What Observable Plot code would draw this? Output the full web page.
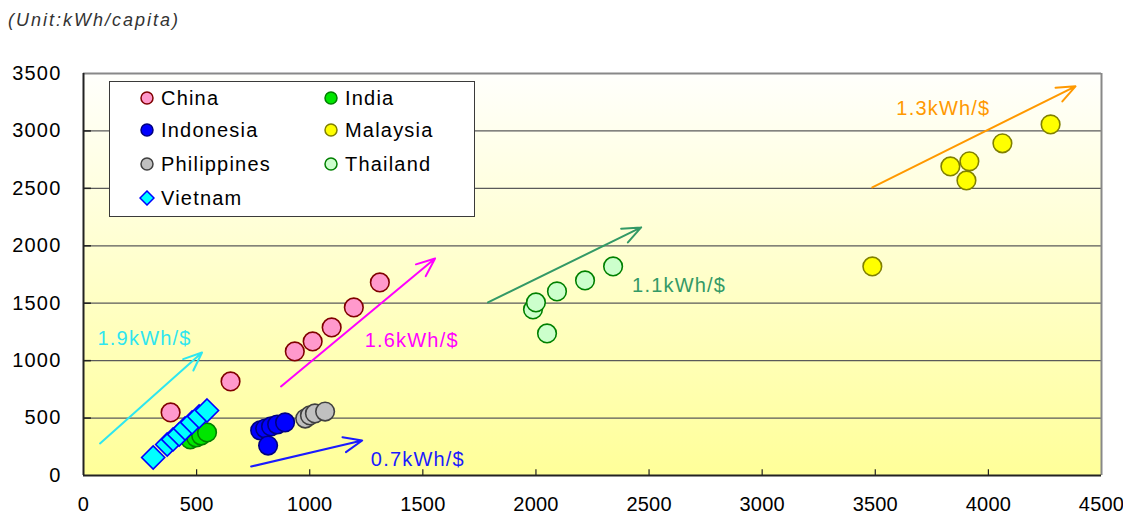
<!DOCTYPE html>
<html>
<head>
<meta charset="utf-8">
<script src="https://cdn.jsdelivr.net/npm/d3@7"></script>
<script src="https://cdn.jsdelivr.net/npm/@observablehq/plot@0.6"></script>
<style>
  html, body { margin: 0; padding: 0; background: #fff; }
  #wrap { position: relative; width: 1123px; height: 519px; font-family: "Liberation Sans", Arial, sans-serif; }
  #wrap svg text { letter-spacing: 1.2px; }
  #wrap svg g[aria-label="x-axis tick label"] text { letter-spacing: 0.2px; }
  #unit { position: absolute; left: 8px; top: 9px; font-size: 18px; line-height: 22px; font-style: italic; color: #333; letter-spacing: 2px; }
  #legend { position: absolute; left: 109px; top: 81px; width: 366px; height: 136px; box-sizing: border-box; border: 1.5px solid #3a3a3a; background: #fff; }
  #legend .item { position: absolute; height: 24px; display: flex; align-items: center; font-size: 20px; letter-spacing: 1.2px; color: #000; white-space: nowrap; }
  #legend .item svg { margin-right: 6px; }
</style>
</head>
<body>
<div id="wrap">
  <div id="unit">(Unit:kWh/capita)</div>
</div>
<script>
// Electricity use per capita (kWh) against GDP per capita (US$), by country
const countries = ["China", "India", "Indonesia", "Malaysia", "Philippines", "Thailand", "Vietnam"];

const chinaX = [385, 650, 934, 1013, 1097, 1195, 1310];
const chinaY = [549, 819, 1080, 1167, 1289, 1463, 1681];
const indiaX = [472, 498, 520, 546];
const indiaY = [314, 331, 348, 375];
const indonesiaX = [781, 803, 829, 856, 891, 816];
const indonesiaY = [392, 409, 427, 444, 462, 261];
const malaysiaX = [3487, 3832, 3916, 3903, 4062, 4275];
const malaysiaY = [1820, 2691, 2735, 2569, 2892, 3057];
const philippinesX = [980, 1001, 1023, 1068];
const philippinesY = [496, 523, 540, 557];
const thailandX = [2049, 1987, 2000, 2093, 2217, 2341];
const thailandY = [1237, 1446, 1507, 1603, 1698, 1820];
const vietnamX = [308, 370, 396, 423, 449, 480, 511, 546];
const vietnamY = [157, 270, 314, 357, 409, 462, 514, 566];

// Trend arrows (intensity, kWh per US$) and their labels
const trendLabels = ["1.9kWh/$", "1.6kWh/$", "0.7kWh/$", "1.1kWh/$", "1.3kWh/$"];
const trendX1 = [73, 873, 741, 1788, 3487];
const trendY1 = [279, 775, 78, 1507, 2508];
const trendX2 = [524, 1554, 1232, 2465, 4385];
const trendY2 = [1071, 1890, 305, 2160, 3388];
const trendLabelX = [62, 1243, 1270, 2425, 3593];
const trendLabelY = [1193, 1176, 139, 1655, 3197];

const xTicks = [0, 500, 1000, 1500, 2000, 2500, 3000, 3500, 4000, 4500];
const yTicks = [0, 500, 1000, 1500, 2000, 2500, 3000, 3500];

// ---- styling ----
const seriesStyle = {
  China:       {fill: "#ff99cc", stroke: "#800000", symbol: "circle"},
  India:       {fill: "#00e600", stroke: "#008000", symbol: "circle"},
  Indonesia:   {fill: "#0000ff", stroke: "#000080", symbol: "circle"},
  Malaysia:    {fill: "#ffff00", stroke: "#808000", symbol: "circle"},
  Philippines: {fill: "#c0c0c0", stroke: "#404040", symbol: "circle"},
  Thailand:    {fill: "#ccffcc", stroke: "#008000", symbol: "circle"},
  Vietnam:     {fill: "#00ffff", stroke: "#0000ff", symbol: "diamond2"}
};
const trendColor = ["#2ee6f0", "#ff00ff", "#1a1aff", "#339966", "#ff9900"];

const seriesXY = {
  China: [chinaX, chinaY], India: [indiaX, indiaY], Indonesia: [indonesiaX, indonesiaY],
  Malaysia: [malaysiaX, malaysiaY], Philippines: [philippinesX, philippinesY],
  Thailand: [thailandX, thailandY], Vietnam: [vietnamX, vietnamY]
};
const points = name => seriesXY[name][0].map((x, i) => ({x, y: seriesXY[name][1][i]}));

const trends = trendLabels.map((label, i) => ({
  label, color: trendColor[i],
  x1: trendX1[i], y1: trendY1[i], x2: trendX2[i], y2: trendY2[i],
  lx: trendLabelX[i], ly: trendLabelY[i]
}));

const gridY = yTicks.slice(1, -1);

const dotMarks = countries.map(name => {
  const s = seriesStyle[name];
  return Plot.dot(points(name), {
    x: "x", y: "y",
    symbol: () => s.symbol,
    r: s.symbol === "circle" ? 9.3 : 10.4,
    fill: s.fill, stroke: s.stroke, strokeWidth: 1.6
  });
});

const chart = Plot.plot({
  width: 1123,
  height: 519,
  marginLeft: 83,
  marginRight: 22,
  marginTop: 73,
  marginBottom: 44,
  x: {domain: [0, 4500]},
  y: {domain: [0, 3500]},
  color: {type: "identity"},
  symbol: {type: "identity"},
  style: {fontFamily: "'Liberation Sans', Arial, sans-serif", fontSize: "20px", color: "#000", background: "transparent", overflow: "visible"},
  marks: [
    Plot.frame({fill: "url(#plotBg)", stroke: "none"}),
    Plot.ruleY(gridY, {stroke: "#5a5a5a", strokeWidth: 1.3}),
    Plot.ruleY(gridY, {x1: 0, x2: 35, stroke: "#222", strokeWidth: 1.5}),
    Plot.ruleX(xTicks.slice(1, -1), {y1: 0, y2: 50, stroke: "#222", strokeWidth: 1.2}),
    Plot.ruleY([3500], {stroke: "#888", strokeWidth: 2}),
    Plot.ruleX([4500], {stroke: "#888", strokeWidth: 2}),
    Plot.ruleX([0], {stroke: "#222", strokeWidth: 2}),
    Plot.ruleY([0], {stroke: "#222", strokeWidth: 2}),
    Plot.axisX({ticks: xTicks, tickSize: 0, tickPadding: 21, tickFormat: "d", label: null}),
    Plot.axisY({ticks: yTicks, tickSize: 0, tickPadding: 22, tickFormat: "d", label: null}),
    Plot.arrow(trends, {x1: "x1", y1: "y1", x2: "x2", y2: "y2", stroke: "color", strokeWidth: 2, headLength: 15, headAngle: 45}),
    Plot.text(trends, {x: "lx", y: "ly", text: "label", fill: "color", textAnchor: "start", fontSize: 20}),
    ...dotMarks
  ]
});

// vertical background wash for the plotting area
const defs = d3.select(chart).insert("defs", ":first-child");
const grad = defs.append("linearGradient").attr("id", "plotBg")
  .attr("x1", 0).attr("y1", 0).attr("x2", 0).attr("y2", 1);
grad.append("stop").attr("offset", "0%").attr("stop-color", "#fffffc");
grad.append("stop").attr("offset", "100%").attr("stop-color", "#ffff99");

const wrap = document.getElementById("wrap");
wrap.insertBefore(chart, wrap.firstChild);
chart.style.position = "absolute";
chart.style.left = "0px";
chart.style.top = "0px";

// legend: two columns, four rows
const legend = document.createElement("div");
legend.id = "legend";
const colX = [29, 213];
const rowY = [16, 48, 82, 116];
countries.forEach((name, i) => {
  const s = seriesStyle[name];
  const item = document.createElement("div");
  item.className = "item";
  item.style.left = colX[i % 2] + "px";
  item.style.top = (rowY[Math.floor(i / 2)] - 12) + "px";
  const marker = s.symbol === "circle"
    ? `<circle cx="8" cy="8" r="6" fill="${s.fill}" stroke="${s.stroke}" stroke-width="1.5"/>`
    : `<path d="M8,1L15,8L8,15L1,8Z" fill="${s.fill}" stroke="${s.stroke}" stroke-width="1.5"/>`;
  item.innerHTML = `<svg width="16" height="16">${marker}</svg><span>${name}</span>`;
  legend.appendChild(item);
});
wrap.appendChild(legend);
</script>
</body>
</html>
